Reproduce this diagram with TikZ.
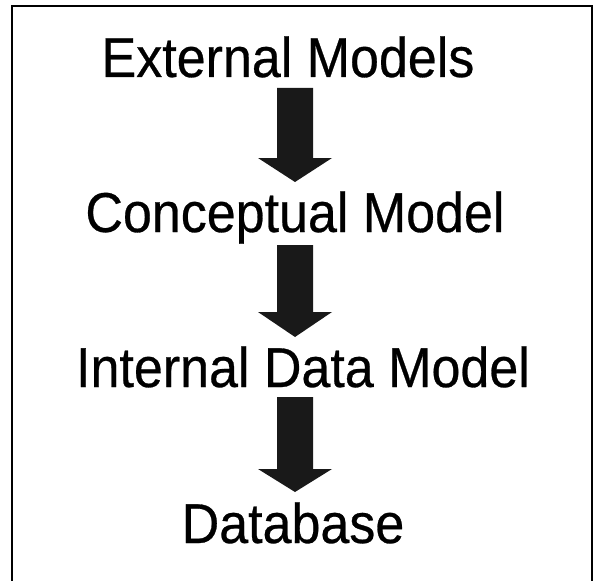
\documentclass[tikz,border=0pt]{standalone}
\usepackage{fontspec}
\setmainfont{Liberation Sans}
\newfontfamily\levelfont{Liberation Sans}[FakeBold=0.5]
\usepackage{graphicx}
\begin{document}
\begin{tikzpicture}[x=1pt,y=-1pt,
  label/.style={anchor=base,inner sep=0pt,font=\levelfont\fontsize{52}{60}\selectfont},
  flowarrow/.style={fill=black!90,draw=none}]
\useasboundingbox (0,0) rectangle (593,580);
\fill[white] (0,0) rectangle (593,580);
% open-bottomed frame
\draw[line width=2pt] (12,590) -- (12,6) -- (591.5,6) -- (591.5,590);

% level labels
\node[label] (ext) at (288,77) {\scalebox{1}[1.08]{External Models}};
\node[label] (con) at (295,232) {\scalebox{1}[1.08]{Conceptual Model}};
\node[label] (int) at (303,387) {\scalebox{1}[1.08]{Internal Data Model}};
\node[label] (db)  at (293,543) {\scalebox{1}[1.08]{Database}};

% block arrows between levels
\newcommand{\blockarrow}[3]{%
  \fill[flowarrow] (277,#1) -- (313,#1) -- (313,#2) -- (332,#2) -- (295,#3)
    -- (258,#2) -- (277,#2) -- cycle;}
\blockarrow{88}{158}{182}
\blockarrow{245}{312}{337}
\blockarrow{397}{469}{492}
\end{tikzpicture}
\end{document}
